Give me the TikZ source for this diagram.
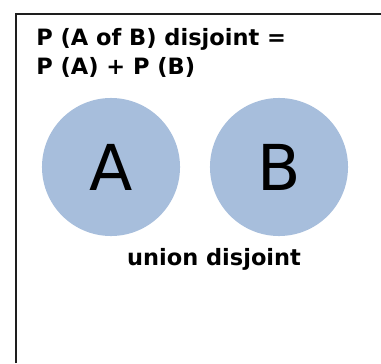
\documentclass[tikz,border=0pt]{standalone}
\usepackage{fontspec}
\setmainfont{DejaVu Sans}
\usepackage{tikz}
\usetikzlibrary{positioning}
\definecolor{SetBlue}{RGB}{167,190,220}
\definecolor{FrameGray}{RGB}{30,30,30}

\begin{document}
\begin{tikzpicture}[x=0.025cm, y=-0.025cm,
          setnode/.style={circle, fill=SetBlue, minimum size=3.45cm,
                          inner sep=0pt, font=\fontsize{45}{50}\selectfont},
          title/.style={anchor=base west, inner sep=0pt,
                        font=\fontsize{16}{19}\selectfont\bfseries},
          caption/.style={anchor=base, inner sep=0pt,
                          font=\fontsize{16}{19}\selectfont\bfseries}
        ]
        \useasboundingbox (0,0) rectangle (381,363);

        % Frame (cut off on the right and at the bottom)
        \coordinate (fb) at (16,363);
        \coordinate (ftl) at (16,14);
        \coordinate (fr) at (381,14);
        \draw[FrameGray, line width=1.3pt] (fb) -- (ftl) -- (fr);

        % Formula
        \node[title] (t1) at (36,45) {P (A of B) disjoint =};
        \node[title] (t2) at (36,74) {P (A) + P (B)};

        % Sets
        \node[setnode] (A) at (111,167) {A};
        \node[setnode] (B) at (279,167) {B};

        % Label
        \node[caption] (lbl) at (214,265) {union disjoint};
      \end{tikzpicture}
\end{document}
